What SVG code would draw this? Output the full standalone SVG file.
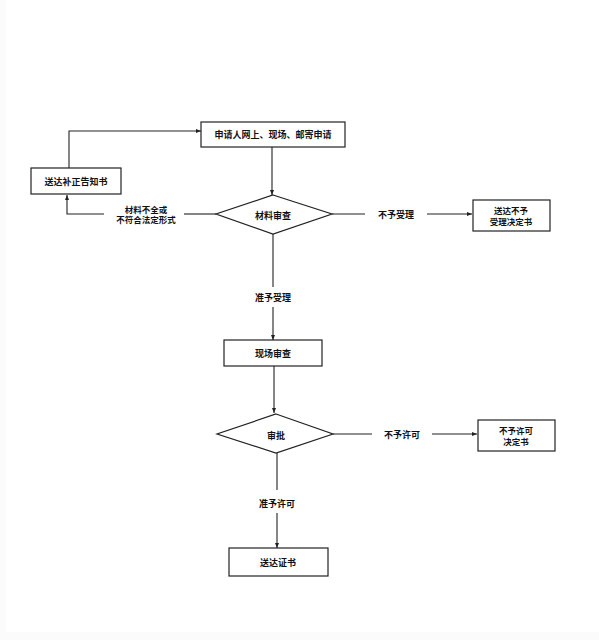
<svg xmlns="http://www.w3.org/2000/svg" width="599" height="640" viewBox="0 0 599 640">
<style>
.box{fill:#fff;stroke:#222;stroke-width:1.2}
.ln{fill:none;stroke:#222;stroke-width:1.1}
.t{font-family:"Noto Sans CJK SC","Liberation Sans",sans-serif;font-size:9px;font-weight:bold;fill:#111;text-anchor:middle;dominant-baseline:central}
.t2{font-size:8.5px}
</style>
<defs>
<marker id="ah" viewBox="0 0 10 10" refX="10" refY="5" markerWidth="5" markerHeight="5" orient="auto" markerUnits="userSpaceOnUse">
<path d="M0,1 L10,5 L0,9 z" fill="#222"/>
</marker>
</defs>
<rect x="0" y="0" width="599" height="640" fill="#fff"/>
<rect x="0" y="0" width="6" height="640" fill="#fbfbfb"/>
<rect x="0" y="632" width="599" height="8" fill="#fbfbfb"/>
<g id="connectors">
<path class="ln" d="M69,168 V131 H201" marker-end="url(#ah)"/>
<path class="ln" d="M272,147 V195" marker-end="url(#ah)"/>
<path class="ln" d="M216,214 H184"/>
<path class="ln" d="M104,214 H67 V195" marker-end="url(#ah)"/>
<path class="ln" d="M332,214 H365"/>
<path class="ln" d="M427,214 H472" marker-end="url(#ah)"/>
<path class="ln" d="M273,234 V287"/>
<path class="ln" d="M273,307 V340" marker-end="url(#ah)"/>
<path class="ln" d="M274,366 V413" marker-end="url(#ah)"/>
<path class="ln" d="M333,434 H372"/>
<path class="ln" d="M432,434 H477" marker-end="url(#ah)"/>
<path class="ln" d="M277,453 V490"/>
<path class="ln" d="M277,513 V548" marker-end="url(#ah)"/>
<text class="t t2" x="146" y="208.8">材料不全或</text>
<text class="t t2" x="146" y="219.4">不符合法定形式</text>
<text class="t" x="396" y="214">不予受理</text>
<text class="t" x="273" y="297">准予受理</text>
<text class="t" x="402" y="434">不予许可</text>
<text class="t" x="277" y="503">准予许可</text>
</g>
<g id="apply">
<rect class="box" x="201" y="122" width="144" height="25"/>
<text class="t" x="273" y="134.5">申请人网上、现场、邮寄申请</text>
</g>
<g id="notice">
<rect class="box" x="31" y="168" width="90" height="26"/>
<text class="t" x="76" y="181">送达补正告知书</text>
</g>
<g id="review">
<polygon class="box" points="273,195 332,214 273,234 216,214"/>
<text class="t" x="273" y="215">材料审查</text>
</g>
<g id="reject1">
<rect class="box" x="473" y="200" width="77" height="31"/>
<text class="t t2" x="511" y="210.2">送达不予</text>
<text class="t t2" x="511" y="220.8">受理决定书</text>
</g>
<g id="onsite">
<rect class="box" x="224" y="340" width="98" height="26"/>
<text class="t" x="273" y="353">现场审查</text>
</g>
<g id="approve">
<polygon class="box" points="276,414 333,434 276,453 217,434"/>
<text class="t" x="276" y="435">审批</text>
</g>
<g id="reject2">
<rect class="box" x="478" y="420" width="77" height="31"/>
<text class="t t2" x="516" y="430.2">不予许可</text>
<text class="t t2" x="516" y="440.8">决定书</text>
</g>
<g id="cert">
<rect class="box" x="229" y="548" width="99" height="28"/>
<text class="t" x="278" y="562">送达证书</text>
</g>
</svg>
